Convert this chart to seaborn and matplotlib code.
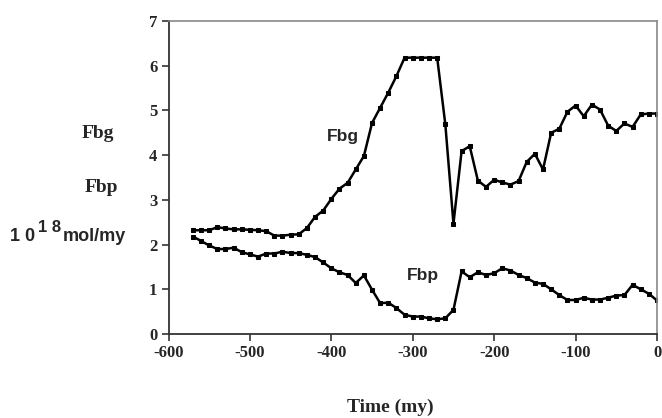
import numpy as np
import pandas as pd
import matplotlib
matplotlib.use("Agg")
import matplotlib.pyplot as plt
import seaborn as sns

time = list(range(-570, 1, 10))
fbg = [2.32, 2.32, 2.32, 2.39, 2.36, 2.34, 2.34, 2.33, 2.32, 2.30,
       2.20, 2.20, 2.22, 2.23, 2.37, 2.62, 2.76, 3.02, 3.25, 3.38,
       3.68, 3.98, 4.72, 5.06, 5.40, 5.77, 6.18, 6.18, 6.18, 6.18,
       6.18, 4.69, 2.47, 4.09, 4.20, 3.43, 3.29, 3.45, 3.39, 3.34,
       3.42, 3.85, 4.03, 3.68, 4.50, 4.59, 4.97, 5.11, 4.87, 5.13,
       5.02, 4.66, 4.54, 4.71, 4.63, 4.91, 4.93, 4.93]
fbp = [2.18, 2.08, 1.98, 1.90, 1.90, 1.93, 1.83, 1.78, 1.73, 1.80,
       1.80, 1.84, 1.81, 1.81, 1.77, 1.72, 1.60, 1.47, 1.38, 1.32,
       1.14, 1.31, 0.99, 0.69, 0.70, 0.58, 0.43, 0.39, 0.39, 0.35,
       0.33, 0.35, 0.54, 1.40, 1.27, 1.38, 1.32, 1.36, 1.47, 1.42,
       1.32, 1.25, 1.15, 1.12, 1.00, 0.87, 0.76, 0.76, 0.81, 0.77,
       0.77, 0.81, 0.86, 0.87, 1.10, 1.00, 0.90, 0.75]
xticks = [-600, -500, -400, -300, -200, -100, 0]
yticks = [0, 1, 2, 3, 4, 5, 6, 7]

sns.set_style("ticks")
plt.rcParams['font.family'] = ['Liberation Serif', 'DejaVu Serif']

df = pd.DataFrame({"time": time * 2, "value": fbg + fbp,
                   "series": ["Fbg"] * len(fbg) + ["Fbp"] * len(fbp)})

fig = plt.figure(figsize=(6.62, 4.18), dpi=100)
L, R, B, T = 168.5 / 662, 657 / 662, 1 - 334 / 418, 1 - 21 / 418
ax = fig.add_axes([L, B, R - L, T - B])
sns.lineplot(data=df, x="time", y="value", units="series", estimator=None,
             color="black", linewidth=1.8, marker="s", markersize=2.4,
             markeredgecolor="black", ax=ax, legend=False)

ax.set_xlim(-600, 0)
ax.set_ylim(0, 7)
ax.set_xticks(xticks)
ax.set_yticks(yticks)
ax.set_xticklabels([str(t) for t in xticks], fontsize=12, fontweight="bold")
ax.set_yticklabels([str(t) for t in yticks], fontsize=12, fontweight="bold")
ax.tick_params(direction="out", length=5, width=1.2, color="#333333", pad=3)
for s in ["left", "bottom"]:
    ax.spines[s].set_color("#333333")
    ax.spines[s].set_linewidth(1.3)
for s in ["top", "right"]:
    ax.spines[s].set_color("#888888")
    ax.spines[s].set_linewidth(1.2)
ax.set_xlabel("")
ax.set_ylabel("")

ax.text(-386, 4.41, "Fbg", fontsize=12.5, fontweight="bold", family="Liberation Sans",
        ha="center", va="center")
ax.text(-287, 1.30, "Fbp", fontsize=12.5, fontweight="bold", family="Liberation Sans",
        ha="center", va="center")

fig.text(98 / 662, 1 - 133 / 418, "Fbg", fontsize=14, fontweight="bold",
         ha="center", va="center")
fig.text(101 / 662, 1 - 187 / 418, "Fbp", fontsize=14, fontweight="bold",
         ha="center", va="center")
fig.text(10.5 / 662, 1 - 241 / 418, "1 0", fontsize=13, fontweight="bold",
         family="Liberation Sans", ha="left", va="baseline")
fig.text(38.5 / 662, 1 - 232 / 418, "1 8", fontsize=12, fontweight="bold",
         family="Liberation Sans", ha="left", va="baseline")
fig.text(62.5 / 662, 1 - 241 / 418, "mol/my", fontsize=13, fontweight="bold",
         family="Liberation Sans", ha="left", va="baseline")
fig.text(390 / 662, 1 - 407 / 418, "Time (my)", fontsize=14, fontweight="bold",
         ha="center", va="center")

fig.savefig("out.png", dpi=100, facecolor="white")
